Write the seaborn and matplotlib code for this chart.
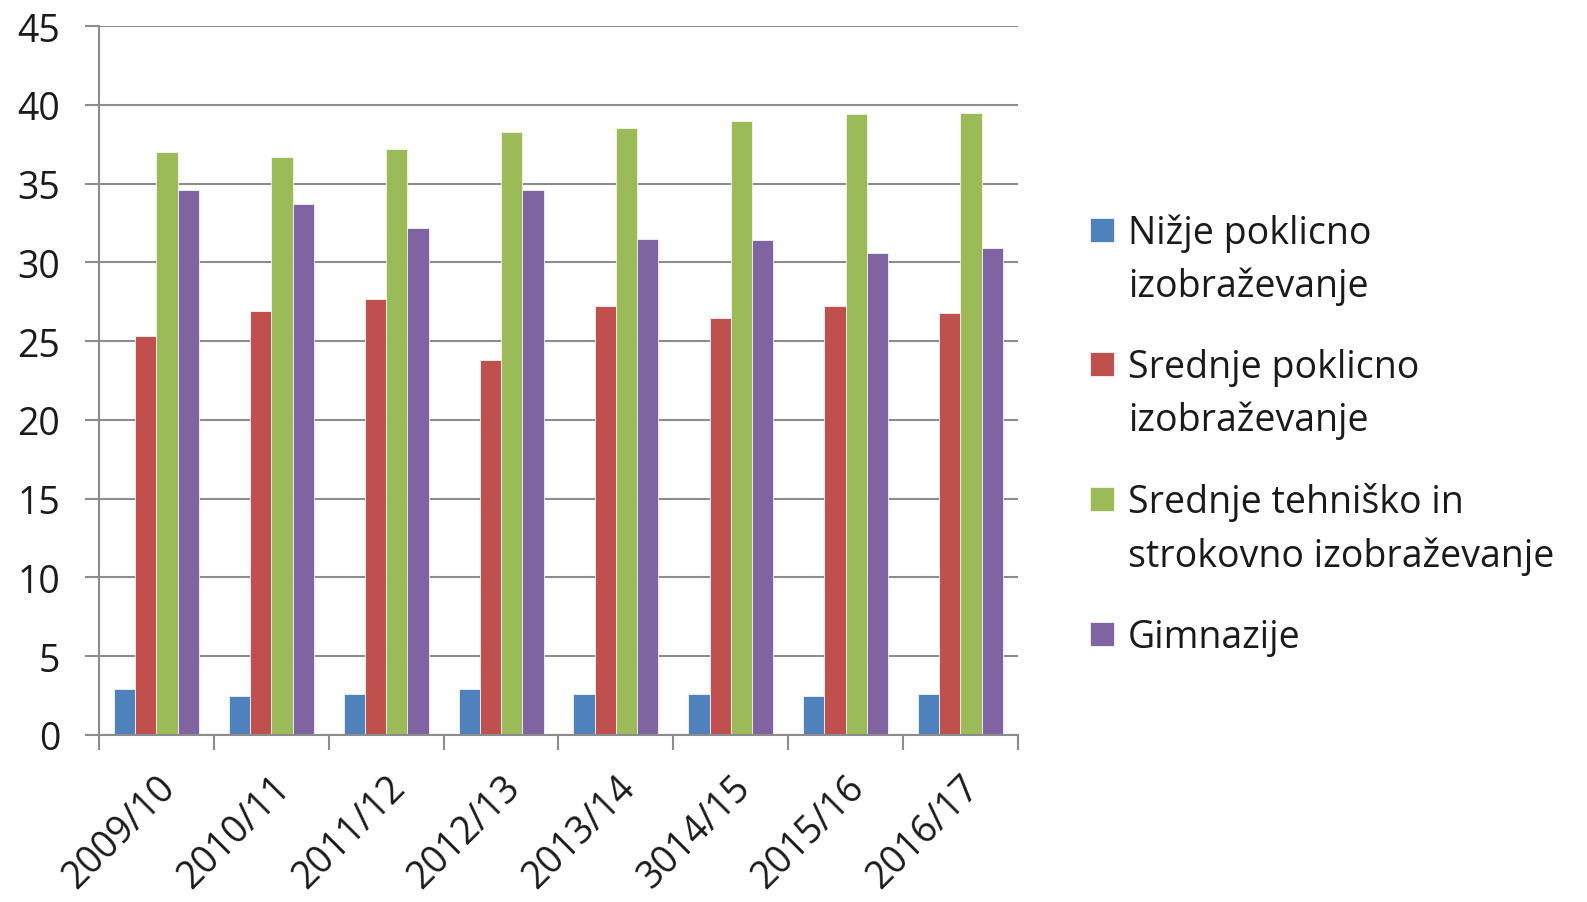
import matplotlib
matplotlib.use("Agg")
import matplotlib.pyplot as plt
import seaborn as sns
import pandas as pd
import numpy as np
from matplotlib.patches import Rectangle

years = ["2009/10", "2010/11", "2011/12", "2012/13", "2013/14", "3014/15", "2015/16", "2016/17"]
series_names = [
    "Nižje poklicno\nizobraževanje",
    "Srednje poklicno\nizobraževanje",
    "Srednje tehniško in\nstrokovno izobraževanje",
    "Gimnazije",
]
nizje = [2.9, 2.5, 2.6, 2.9, 2.6, 2.6, 2.5, 2.6]
srednje_poklicno = [25.3, 26.9, 27.7, 23.8, 27.2, 26.5, 27.2, 26.8]
tehnisko = [37.0, 36.7, 37.2, 38.3, 38.5, 39.0, 39.4, 39.5]
gimnazije = [34.6, 33.7, 32.2, 34.6, 31.5, 31.4, 30.6, 30.9]
colors = ["#4F81BD", "#C0504D", "#9BBB59", "#8064A2"]

df = pd.DataFrame({
    "year": years * 4,
    "series": np.repeat(series_names, len(years)),
    "value": nizje + srednje_poklicno + tehnisko + gimnazije,
})

sns.set_theme(style="white")
plt.rcParams["font.family"] = ["Open Sans", "DejaVu Sans"]

W, H = 1587, 903
fig = plt.figure(figsize=(W / 100, H / 100), dpi=100)
ax = fig.add_axes([0.0624, 0.185, 0.579, 0.785])

grey = "#8c8c8c"
txt = "#1a1a1a"

sns.barplot(data=df, x="year", y="value", hue="series", palette=colors, saturation=1,
            width=0.74, gap=0, edgecolor="#f4f4f4", linewidth=0.6, ax=ax, legend=False)

ax.set_ylim(0, 45)
ax.set_xlim(-0.5, len(years) - 0.5)
ax.set_yticks(range(0, 46, 5))
ax.yaxis.grid(True, color=grey, linewidth=1.5)
ax.set_axisbelow(True)
ax.set_xlabel("")
ax.set_ylabel("")

for side in ["top", "right"]:
    ax.spines[side].set_visible(False)
for side in ["left", "bottom"]:
    ax.spines[side].set_color(grey)
    ax.spines[side].set_linewidth(1.5)

ax.tick_params(axis="y", which="major", left=True, length=10, width=1.5,
               color=grey, labelsize=27, pad=18, labelcolor=txt)
ax.set_xticks(np.arange(len(years)))
ax.set_xticklabels(years, rotation=45, ha="right", rotation_mode="anchor", fontsize=27, color=txt)
ax.tick_params(axis="x", which="major", length=0, pad=24)
ax.set_xticks(np.arange(-0.5, len(years)), minor=True)
ax.tick_params(axis="x", which="minor", bottom=True, length=11, width=1.5, color=grey)

# legend drawn by hand: Excel style, swatch aligned with the first text line
baselines = [244, 378, 513, 648]
line_step = 53.5
sq = 24
for name, col, yb in zip(series_names, colors, baselines):
    fig.patches.append(Rectangle((1090 / W, 1 - (yb - 1) / H), sq / W, sq / H,
                                 transform=fig.transFigure, facecolor=col,
                                 edgecolor="#f4f4f4", linewidth=0.6))
    for i, line in enumerate(name.split("\n")):
        fig.text(1128 / W, 1 - (yb + i * line_step) / H, line, fontsize=27,
                 color=txt, ha="left", va="baseline")

fig.savefig("out.png", dpi=100)
